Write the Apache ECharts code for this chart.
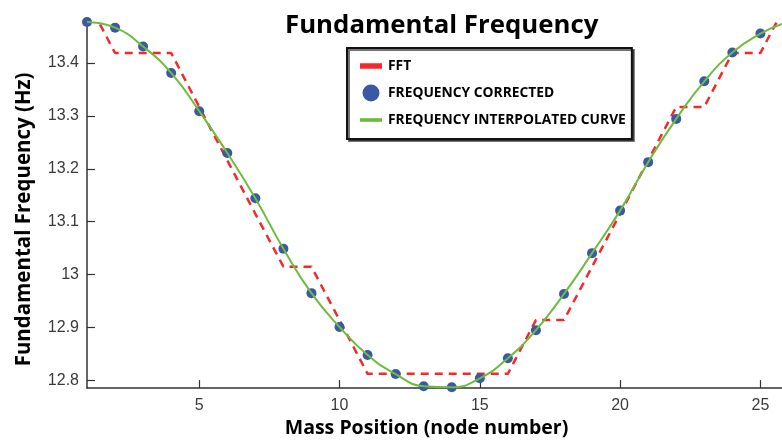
<!DOCTYPE html>
<html>
<head>
<meta charset="utf-8">
<script src="https://cdn.jsdelivr.net/npm/echarts@6/dist/echarts.min.js"></script>
<style>
html,body{margin:0;padding:0;background:#fff;}
#chart{width:782px;height:443px;}
</style>
</head>
<body>
<div id="chart"></div>
<script>
// ---- data ----
const nodes = [1,2,3,4,5,6,7,8,9,10,11,12,13,14,15,16,17,18,19,20,21,22,23,24,25];
const correctedFreq = [13.4776,13.4669,13.4312,13.3812,13.309,13.230,13.1444,13.049,12.965,12.901,12.848,12.812,12.789,12.787,12.804,12.842,12.895,12.9635,13.0406,13.121,13.2126,13.2944,13.3654,13.420,13.4557];
const fftNodes = [1,2,3,4,5,6,7,8,9,10,11,12,13,14,15,16,17,18,19,20,21,22,23,24,25,26];
const fftFreq = [13.520,13.419,13.419,13.419,13.317,13.216,13.115,13.015,13.015,12.914,12.8125,12.8125,12.8125,12.8125,12.8125,12.8125,12.914,12.914,13.015,13.115,13.216,13.317,13.317,13.419,13.419,13.520];
const curveNodes = [1,2,3,4,5,6,7,8,9,10,11,12,13,14,15,16,17,18,19,20,21,22,23,24,25,25.77];
const curveFreq = [13.4776,13.4669,13.4312,13.3812,13.309,13.230,13.1444,13.049,12.965,12.901,12.848,12.812,12.789,12.787,12.804,12.842,12.895,12.9635,13.0406,13.121,13.2126,13.2944,13.3654,13.420,13.4557,13.474];
const xTicks = [5,10,15,20,25];
const yTicks = [12.8,12.9,13.0,13.1,13.2,13.3,13.4];
const seriesNames = ['FFT','FREQUENCY CORRECTED','FREQUENCY INTERPOLATED CURVE'];

const zip = (a,b) => a.map((v,i)=>[v,b[i]]);

const chart = echarts.init(document.getElementById('chart'), null, {renderer:'canvas'});
const axisColor = '#333';
const labelFont = {fontFamily:'Liberation Sans', fontSize:16, color:'#3a3a3a'};
const boldFont = 'Open Sans';

chart.setOption({
  animation:false,
  backgroundColor:'#fff',
  title:{
    text:'Fundamental Frequency',
    left:280, top:8,
    textStyle:{fontFamily:boldFont, fontWeight:'bold', fontSize:25.8, color:'#000'}
  },
  legend:{
    orient:'vertical',
    left:347, top:48,
    padding:[11,6,12,13],
    itemGap:11.5,
    itemWidth:22, itemHeight:17,
    backgroundColor:'#fff',
    borderColor:'#111', borderWidth:2,
    shadowColor:'rgba(0,0,0,0.55)', shadowOffsetX:2, shadowOffsetY:2, shadowBlur:0,
    textStyle:{fontFamily:boldFont, fontWeight:'bold', fontSize:13.8, color:'#000', padding:[0,0,0,1]},
    data:[
      {name:seriesNames[0], icon:'path://M0,0H22V5.5H0Z'},
      {name:seriesNames[1], icon:'circle'},
      {name:seriesNames[2], icon:'path://M0,0H24V4H0Z'}
    ]
  },
  grid:{left:87, right:0, top:20.7, bottom:53, containLabel:false},
  xAxis:{
    type:'value', min:1, max:25.77,
    name:'Mass Position (node number)', nameLocation:'middle', nameGap:25,
    nameTextStyle:{fontFamily:boldFont, fontWeight:'bold', fontSize:19.5, color:'#000', padding:[0,16,0,0]},
    axisLine:{show:true, onZero:false, lineStyle:{color:axisColor, width:1.5}},
    axisTick:{show:true, inside:true, length:8, customValues:xTicks, lineStyle:{color:axisColor, width:1.2}},
    axisLabel:{customValues:xTicks, margin:9, ...labelFont},
    splitLine:{show:false}
  },
  yAxis:{
    type:'value', min:12.7855, max:13.48,
    name:'Fundamental Frequency (Hz)', nameLocation:'middle', nameGap:52, nameRotate:90,
    nameTextStyle:{fontFamily:boldFont, fontWeight:'bold', fontSize:20.5, color:'#000', padding:[0,30,0,0]},
    axisLine:{show:true, onZero:false, lineStyle:{color:axisColor, width:1.5}},
    axisTick:{show:true, inside:true, length:8, customValues:yTicks, lineStyle:{color:axisColor, width:1.2}},
    axisLabel:{customValues:yTicks, margin:8, formatter:v=>String(Math.round(v*10)/10), ...labelFont},
    splitLine:{show:false}
  },
  series:[
    {
      name:seriesNames[0], type:'line', data:zip(fftNodes,fftFreq),
      symbol:'none', clip:true, color:'#f42a2a',
      lineStyle:{color:'#f42a2a', width:2.5, type:[8,6]}, z:2
    },
    {
      name:seriesNames[1], type:'scatter', data:zip(nodes,correctedFreq),
      symbol:'circle', symbolSize:10, color:'#3b58a4',
      itemStyle:{color:'#3b58a4', opacity:1}, z:3
    },
    {
      name:seriesNames[2], type:'line', data:zip(curveNodes,curveFreq),
      symbol:'none', smooth:0.5, clip:true, color:'#6cbd3e',
      lineStyle:{color:'#6cbd3e', width:2}, z:4
    }
  ]
});
</script>
</body>
</html>
